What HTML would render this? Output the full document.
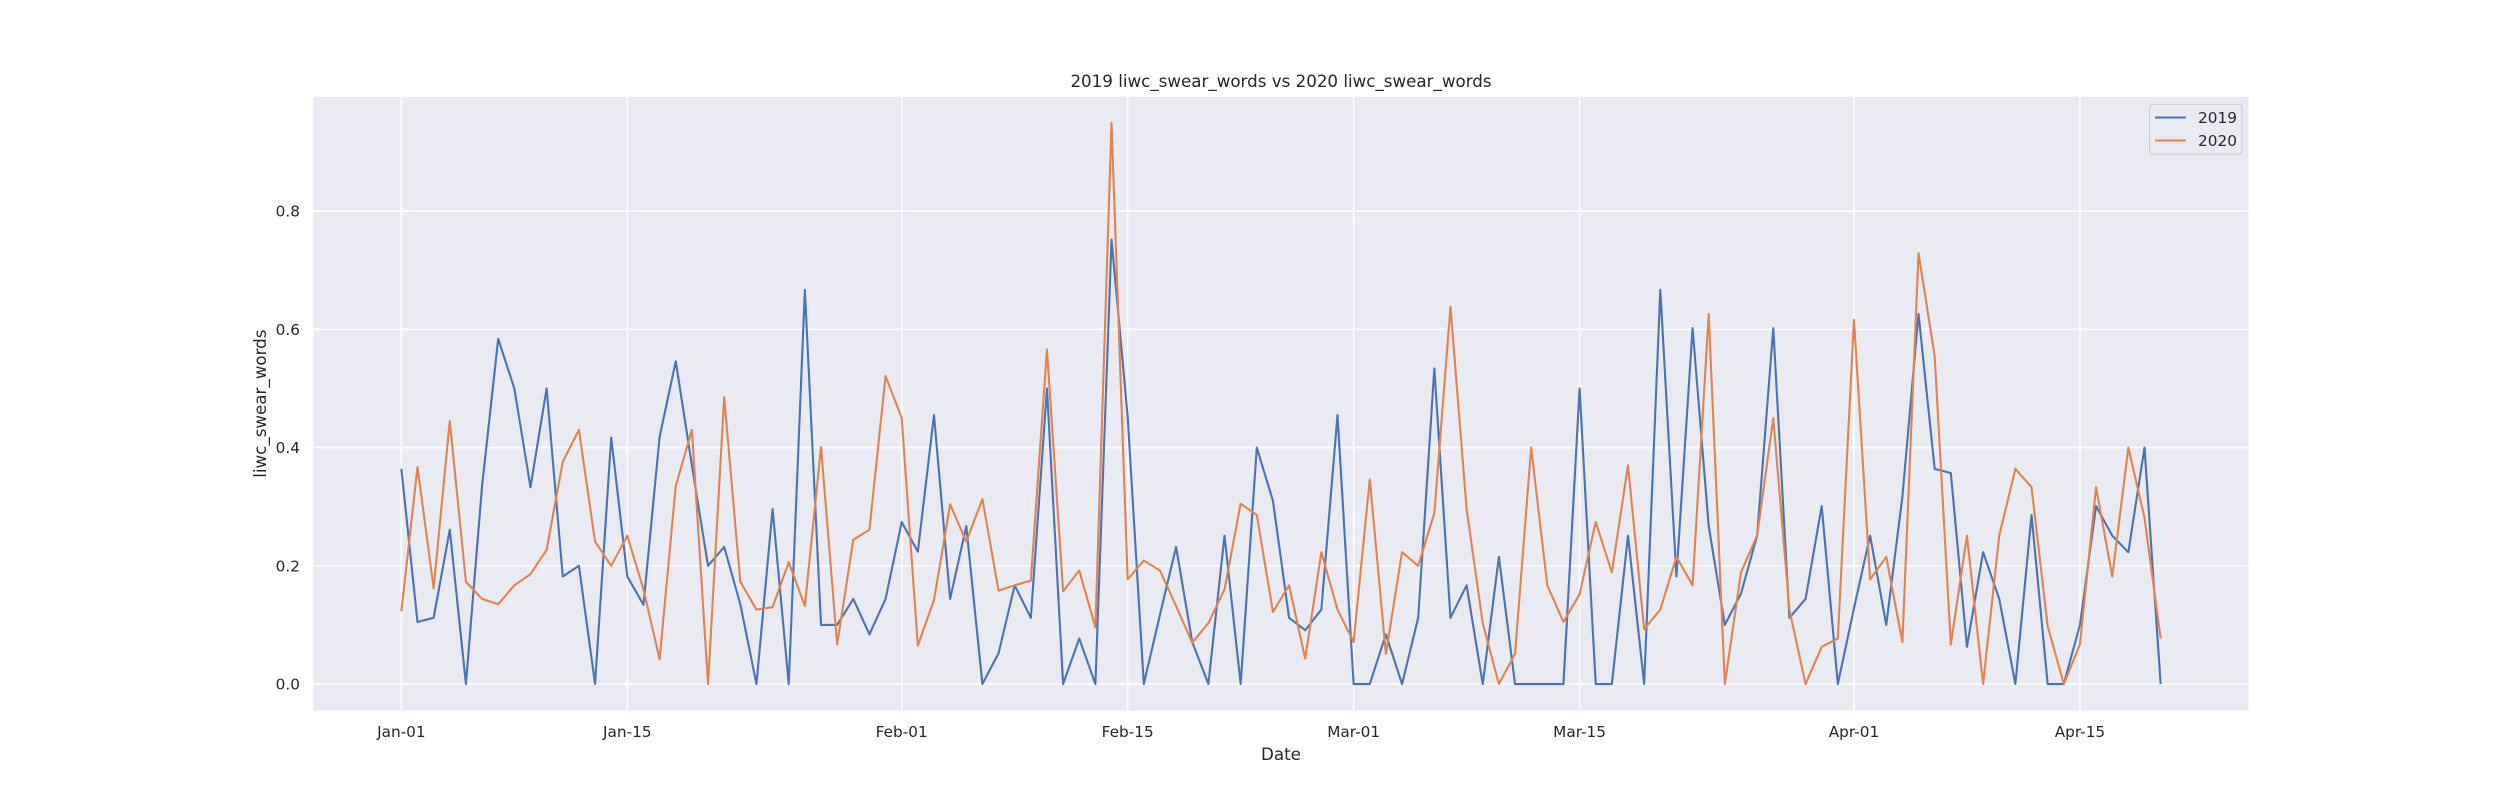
<!DOCTYPE html>
<html><head><meta charset="utf-8"><style>
html,body{margin:0;padding:0;background:#fff;}
svg{display:block;font-family:"DejaVu Sans","Liberation Sans",sans-serif;}
</style></head><body>
<svg id="chart" width="2500" height="800" viewBox="0 0 2500 800" xmlns="http://www.w3.org/2000/svg"></svg>
<script>
const xTickLabels = ["Jan-01","Jan-15","Feb-01","Feb-15","Mar-01","Mar-15","Apr-01","Apr-15"];
const xTickDays = [0,14,31,45,59,73,90,104];
const yTickLabels = ["0.0","0.2","0.4","0.6","0.8"];
const yTickValues = [0,0.2,0.4,0.6,0.8];
const seriesNames = ["2019","2020"];
const values2019 = [0.364,0.105,0.112,0.261,0,0.335,0.584,0.5,0.333,0.5,0.182,0.2,0,0.417,0.182,0.134,0.418,0.546,0.37,0.2,0.232,0.135,0,0.296,0,0.667,0.1,0.1,0.144,0.084,0.144,0.274,0.224,0.455,0.144,0.267,0,0.052,0.167,0.112,0.5,0,0.077,0,0.752,0.452,0,0.117,0.232,0.071,0,0.251,0,0.4,0.31,0.112,0.091,0.126,0.455,0,0,0.084,0,0.112,0.534,0.112,0.167,0,0.215,0,0,0,0,0.5,0,0,0.251,0,0.667,0.182,0.602,0.267,0.1,0.153,0.251,0.602,0.112,0.144,0.301,0,0.128,0.251,0.1,0.317,0.626,0.364,0.357,0.063,0.223,0.144,0,0.286,0,0,0.1,0.301,0.251,0.223,0.4,0];
const values2020 = [0.123,0.367,0.162,0.445,0.173,0.144,0.135,0.167,0.186,0.227,0.376,0.43,0.241,0.2,0.251,0.16,0.042,0.335,0.43,0,0.485,0.173,0.126,0.13,0.206,0.132,0.401,0.067,0.244,0.261,0.521,0.45,0.065,0.142,0.304,0.241,0.313,0.158,0.167,0.175,0.566,0.157,0.192,0.096,0.949,0.177,0.209,0.192,0.132,0.07,0.103,0.16,0.305,0.286,0.122,0.167,0.043,0.223,0.126,0.071,0.346,0.051,0.223,0.2,0.289,0.638,0.296,0.103,0,0.051,0.4,0.167,0.105,0.152,0.274,0.189,0.37,0.093,0.126,0.215,0.167,0.626,0,0.189,0.251,0.45,0.126,0,0.063,0.077,0.616,0.177,0.215,0.071,0.729,0.555,0.067,0.251,0,0.251,0.364,0.333,0.098,0,0.067,0.333,0.182,0.4,0.281,0.077];

const NS="http://www.w3.org/2000/svg";
const svg=document.getElementById('chart');
const L=313.4,R=2248.6,T=96.8,B=710.5;
const xMin=-5.45,xMax=114.45,yMin=-0.0448,yMax=0.9935;
const xs=d=>L+(d-xMin)/(xMax-xMin)*(R-L);
const ys=v=>B-(v-yMin)/(yMax-yMin)*(B-T);
function mk(tag,attrs){const e=document.createElementNS(NS,tag);for(const k in attrs)e.setAttribute(k,attrs[k]);svg.appendChild(e);return e;}

let bg=mk('rect',{x:L,y:T,width:R-L,height:B-T,fill:'#eaeaf2'});



yTickValues.forEach((v,i)=>{
  const g=mk('line',{x1:L,x2:R,y1:ys(v),y2:ys(v),stroke:'#fff','stroke-width':1.6});
  
  
  const t=mk('text',{x:300,y:ys(v)+5.5,'text-anchor':'end','font-size':15.3,fill:'#262626'});
  t.textContent=yTickLabels[i];
  
  
});
xTickDays.forEach((d,i)=>{
  const g=mk('line',{x1:xs(d),x2:xs(d),y1:T,y2:B,stroke:'#fff','stroke-width':1.6});
  
  
  const t=mk('text',{x:xs(d),y:737,'text-anchor':'middle','font-size':15.3,fill:'#262626'});
  t.textContent=xTickLabels[i];
  
  
});

const colors=['#4c72b0','#dd8452'];
[values2019,values2020].forEach((vals,si)=>{
  const pts=vals.map((v,i)=>xs(i).toFixed(2)+','+ys(v).toFixed(2)).join(' ');
  const p=mk('polyline',{points:pts,fill:'none',stroke:colors[si],'stroke-width':2.1,'stroke-linejoin':'round'});
  
  
});

let title=mk('text',{x:(L+R)/2,y:87,'text-anchor':'middle','font-size':16.7,fill:'#262626'});
title.textContent='2019 liwc_swear_words vs 2020 liwc_swear_words';


let xl=mk('text',{x:(L+R)/2,y:760,'text-anchor':'middle','font-size':16.7,fill:'#262626'});
xl.textContent='Date';


let yl=mk('text',{x:0,y:0,'text-anchor':'middle','font-size':16.7,fill:'#262626',transform:'translate(266,'+((T+B)/2)+') rotate(-90)'});
yl.textContent='liwc_swear_words';



let lg=mk('rect',{x:2149.5,y:104.4,width:92.5,height:49.6,rx:3,fill:'#eaeaf2',stroke:'#cccccc','stroke-width':1,'fill-opacity':0.8});


seriesNames.forEach((n,i)=>{
  const y=i===0?117.5:140.5;
  const l=mk('line',{x1:2155,x2:2186,y1:y,y2:y,stroke:colors[i],'stroke-width':2.1});
  
  
  const t=mk('text',{x:2198,y:y+5.3,'font-size':15.3,fill:'#262626'});
  t.textContent=n;
  
  
});
</script>
</body></html>
